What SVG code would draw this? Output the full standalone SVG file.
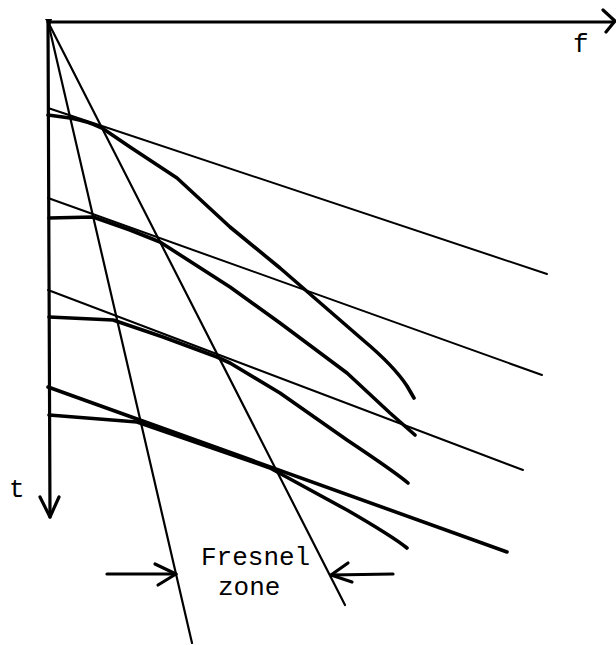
<svg xmlns="http://www.w3.org/2000/svg" width="616" height="645" viewBox="0 0 616 645">
<style>
.ax{fill:none;stroke:#000;stroke-width:3.2;stroke-linecap:round;stroke-linejoin:round}
.thin{fill:none;stroke:#000;stroke-width:2;stroke-linecap:round}
.ray{fill:none;stroke:#000;stroke-width:2.2;stroke-linecap:round}
.thick{fill:none;stroke:#000;stroke-width:3.6;stroke-linecap:round;stroke-linejoin:round}
.lbl{font-family:"Liberation Mono","DejaVu Sans Mono",monospace;font-size:26px;fill:#000}
</style>
<rect width="616" height="645" fill="#fff"/>
<g id="axes">
<path class="ax" d="M48,22 L614,22"/>
<path class="ax" d="M603,10 L615,21 L606,32"/>
<path class="ax" d="M48,22 L50,517"/>
<path class="ax" d="M40,497 L50,517 L59,497"/>
<path d="M45,19 L52,19 L50,27 Z" fill="#000"/>
</g>
<g id="rays">
<path class="ray" d="M48,22 L192,643"/>
<path class="ray" d="M48,22 L345,605"/>
</g>
<g id="wavefront-1">
<path class="thin" d="M48,108 L547,274"/>
<path class="thick" d="M48,115 L70,118 Q87,121 102,128 L130,147 L177,178 L230,227 L280,268 L363,340 Q394,366 407,386 L414,398"/>
</g>
<g id="wavefront-2">
<path class="thin" d="M48,198 L542,375"/>
<path class="thick" d="M49,218 L93,217 L130,230 L160,242 L230,287 L280,323 L347,373 L390,413 L415,435"/>
</g>
<g id="wavefront-3">
<path class="thin" d="M48,290 L523,470"/>
<path class="thick" d="M49,317 L113,320 L163,337 L217,357 L230,363 L280,393 L347,440 Q395,472 408,483"/>
</g>
<g id="wavefront-4">
<path class="thick" d="M48,387 L507,552"/>
<path class="thick" d="M49,415 L137,422 L270,468 L347,510 Q392,536 407,548"/>
</g>
<g id="fresnel-arrows">
<path class="ax" d="M107,574 L176,574"/>
<path class="ax" d="M155,564 L176,574 L158,585"/>
<path class="ax" d="M393,574 L331,575"/>
<path class="ax" d="M348,563 L331,575 L352,582"/>
</g>
<g id="labels">
<text class="lbl" x="573" y="52">f</text>
<text class="lbl" x="9" y="497">t</text>
<text class="lbl" x="201" y="565">Fresnel</text>
<text class="lbl" x="218" y="595">zone</text>
</g>
</svg>
